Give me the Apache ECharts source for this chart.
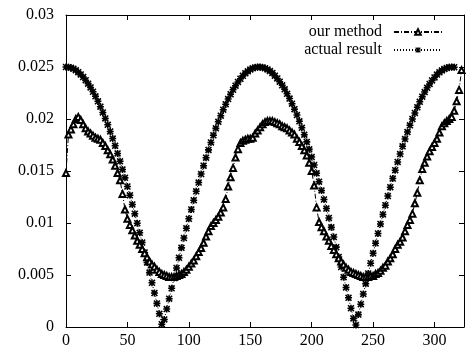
<!DOCTYPE html>
<html>
<head>
<meta charset="utf-8">
<script src="https://cdn.jsdelivr.net/npm/echarts@6/dist/echarts.min.js"></script>
<style>
html,body{margin:0;padding:0;background:#fff;}
#c{width:467px;height:356px;}
</style>
</head>
<body>
<div id="c"></div>
<script>
var xs = [0,2,4,6,8,10,12,14,16,18,20,22,24,26,28,30,32,34,36,38,40,42,44,46,48,50,52,54,56,58,60,62,64,66,68,70,72,74,76,78,80,82,84,86,88,90,92,94,96,98,100,102,104,106,108,110,112,114,116,118,120,122,124,126,128,130,132,134,136,138,140,142,144,146,148,150,152,154,156,158,160,162,164,166,168,170,172,174,176,178,180,182,184,186,188,190,192,194,196,198,200,202,204,206,208,210,212,214,216,218,220,222,224,226,228,230,232,234,236,238,240,242,244,246,248,250,252,254,256,258,260,262,264,266,268,270,272,274,276,278,280,282,284,286,288,290,292,294,296,298,300,302,304,306,308,310,312,314,316,318,320,322];

var ourMethod = [
0.0148,0.0185,0.0190,0.0195,0.0200,0.0202,0.0199,0.0195,0.0191,0.0188,
0.0186,0.0184,0.0182,0.0181,0.0180,0.0177,0.0174,0.0170,0.0166,0.0161,
0.0155,0.0148,0.0141,0.0128,0.0113,0.0104,0.0098,0.0093,0.0088,0.0083,
0.0079,0.0075,0.0071,0.0067,0.0063,0.0060,0.0058,0.0055,0.0053,0.0051,
0.0050,0.0049,0.0048,0.0048,0.0048,0.0049,0.0050,0.0051,0.0053,0.0055,
0.0058,0.0061,0.0064,0.0068,0.0072,0.0076,0.0081,0.0087,0.0092,0.0097,
0.0100,0.0103,0.0106,0.0110,0.0115,0.0123,0.0135,0.0144,0.0153,0.0163,
0.0171,0.0177,0.0179,0.0180,0.0181,0.0181,0.0182,0.0186,0.0189,0.0192,
0.0195,0.0197,0.0198,0.0198,0.0198,0.0197,0.0196,0.0195,0.0193,0.0192,
0.0191,0.0189,0.0187,0.0185,0.0181,0.0178,0.0174,0.0170,0.0165,0.0158,
0.0150,0.0136,0.0115,0.0101,0.0096,0.0092,0.0087,0.0083,0.0078,0.0074,
0.0070,0.0066,0.0063,0.0060,0.0057,0.0055,0.0053,0.0052,0.0051,0.0050,
0.0049,0.0048,0.0048,0.0048,0.0049,0.0049,0.0051,0.0052,0.0054,0.0057,
0.0059,0.0063,0.0066,0.0070,0.0075,0.0079,0.0082,0.0086,0.0092,0.0098,
0.0103,0.0109,0.0119,0.0129,0.0141,0.0152,0.0158,0.0164,0.0169,0.0173,
0.0177,0.0181,0.0187,0.0193,0.0196,0.0198,0.0200,0.0202,0.0208,0.0217,
0.0228,0.0247];

var actualResult = [
0.025,0.02498,0.02492,0.02482,0.02468,0.0245,0.02428,0.02403,0.02373,0.0234,
0.02303,0.02262,0.02218,0.0217,0.02118,0.02063,0.02005,0.01944,0.0188,0.01812,
0.01742,0.01669,0.01593,0.01515,0.01434,0.01351,0.01266,0.01178,0.01089,0.00998,
0.00906,0.00812,0.00717,0.00621,0.00523,0.00425,0.00326,0.00227,0.00127,0.00027,
0.00073,0.00173,0.00272,0.00372,0.0047,0.00568,0.00665,0.00761,0.00855,0.00949,
0.0104,0.0113,0.01219,0.01305,0.01389,0.01471,0.01551,0.01628,0.01703,0.01775,
0.01843,0.0191,0.01973,0.02032,0.02089,0.02142,0.02192,0.02238,0.02281,0.0232,
0.02356,0.02387,0.02415,0.02439,0.02459,0.02475,0.02487,0.02495,0.02499,0.025,
0.02496,0.02488,0.02477,0.02461,0.02442,0.02417,0.0239,0.02359,0.02324,0.02286,
0.02242,0.02197,0.02147,0.02094,0.02038,0.01978,0.01915,0.01849,0.0178,0.01708,
0.01634,0.01557,0.01478,0.01397,0.01313,0.01226,0.01139,0.01049,0.00958,0.00865,
0.00768,0.00674,0.00576,0.00479,0.0038,0.00281,0.00181,0.00082,0.00019,0.00119,
0.00219,0.00318,0.00417,0.00515,0.00613,0.00709,0.00805,0.00899,0.00991,0.01082,
0.01171,0.01259,0.01344,0.01427,0.01508,0.01587,0.01663,0.01737,0.01807,0.01874,
0.01939,0.02,0.02058,0.02113,0.02165,0.02214,0.02259,0.023,0.02337,0.02371,
0.024,0.02427,0.02449,0.02467,0.02481,0.02491,0.02498,0.025,0.02498];

var seriesNames = ['our method', 'actual result'];
var xTicks = [0, 50, 100, 150, 200, 250, 300];
var yTicks = [0, 0.005, 0.01, 0.015, 0.02, 0.025, 0.03];

function pairs(vals) {
  var out = [];
  for (var i = 0; i < vals.length; i++) out.push([xs[i], vals[i]]);
  return out;
}

var FONT = '"Liberation Serif", "Times New Roman", serif';
var starPath = 'path://M0,3.9H10V6.1H0Z M3.9,0H6.1V10H3.9Z M1.6,0L10,8.4L8.4,10L0,1.6Z M8.4,0L10,1.6L1.6,10L0,8.4Z';

function axisBase() {
  return {
    axisLine: {show: true, onZero: false, lineStyle: {color: '#000', width: 1}},
    axisTick: {show: true, inside: true, length: 5, lineStyle: {color: '#000', width: 1}},
    splitLine: {show: false}
  };
}

var chart = echarts.init(document.getElementById('c'), null, {renderer: 'canvas'});
chart.setOption({
  animation: false,
  backgroundColor: '#fff',
  grid: {left: 66, right: 2, top: 15, bottom: 29, containLabel: false},
  legend: {
    orient: 'vertical',
    right: 24,
    top: 24,
    padding: 0,
    itemGap: 2,
    itemWidth: 48,
    itemHeight: 7,
    align: 'right',
    data: seriesNames,
    textStyle: {fontFamily: FONT, fontSize: 16, color: '#000', lineHeight: 16, padding: [0, 7, 0, 0]}
  },
  xAxis: [
    Object.assign(axisBase(), {
      type: 'value', position: 'bottom', min: 0, max: 324, interval: 50,
      axisLabel: {
        fontFamily: FONT, fontSize: 16, color: '#000', margin: 6,
        formatter: function (v) { return xTicks.indexOf(v) >= 0 ? String(v) : ''; }
      }
    }),
    Object.assign(axisBase(), {
      type: 'value', position: 'top', min: 0, max: 324, interval: 50,
      axisLabel: {show: false}
    })
  ],
  yAxis: [
    Object.assign(axisBase(), {
      type: 'value', position: 'left', min: 0, max: 0.03, interval: 0.005,
      axisLabel: {
        fontFamily: FONT, fontSize: 16, color: '#000', margin: 12,
        formatter: function (v) {
          for (var i = 0; i < yTicks.length; i++) if (Math.abs(yTicks[i] - v) < 1e-9) return String(yTicks[i]);
          return '';
        }
      }
    }),
    Object.assign(axisBase(), {
      type: 'value', position: 'right', min: 0, max: 0.03, interval: 0.005,
      axisLabel: {show: false}
    })
  ],
  series: [
    {
      name: seriesNames[0],
      type: 'line',
      data: pairs(ourMethod),
      symbol: 'emptyTriangle',
      symbolSize: 6,
      showAllSymbol: true,
      itemStyle: {color: '#000', borderColor: '#000', borderWidth: 1.5},
      lineStyle: {color: '#000', width: 1, type: [5, 2, 1, 2]},
      z: 3
    },
    {
      name: seriesNames[1],
      type: 'line',
      data: pairs(actualResult),
      symbol: starPath,
      symbolSize: 7,
      showAllSymbol: true,
      itemStyle: {color: '#000', borderWidth: 0},
      lineStyle: {color: '#000', width: 1, type: [1, 2]},
      z: 2
    }
  ]
});
</script>
</body>
</html>
